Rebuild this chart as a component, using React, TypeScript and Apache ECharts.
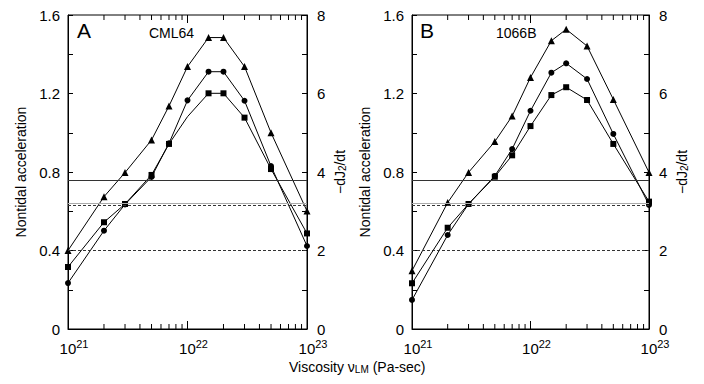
import React, { useEffect, useRef } from 'react';
import * as echarts from 'echarts';

const viscosity = [1e21, 2e21, 3e21, 5e21, 7e21, 1e22, 1.5e22, 2e22, 3e22, 5e22, 1e23];

const triA = [0.40, 0.674, 0.797, 0.963, 1.136, 1.337, 1.485, 1.485, 1.337, 1.0, 0.601];
const cirA = [0.234, 0.501, 0.635, 0.775, 0.946, 1.165, 1.311, 1.311, 1.163, 0.83, 0.423];
const sqA = [0.316, 0.544, 0.637, 0.785, 0.943, 1.082, 1.201, 1.201, 1.077, 0.815, 0.487];
const sqAHidden = [5]; // vertex without a visible marker

const triB = [0.297, 0.644, 0.798, 0.955, 1.085, 1.282, 1.469, 1.527, 1.442, 1.17, 0.798];
const cirB = [0.148, 0.479, 0.637, 0.78, 0.917, 1.112, 1.306, 1.354, 1.274, 0.994, 0.632];
const sqB = [0.233, 0.516, 0.637, 0.776, 0.885, 1.034, 1.192, 1.232, 1.167, 0.943, 0.649];

const refSolid = 0.76;
const refGrey = 0.64;
const refDashHigh = 0.63;
const refDashLow = 0.4;

const majorX = [1e22];
const minorX = [2e21, 3e21, 4e21, 5e21, 6e21, 7e21, 8e21, 9e21, 2e22, 3e22, 4e22, 5e22, 6e22, 7e22, 8e22, 9e22];

const panelLetters = ['A', 'B'];
const panelNames = ['CML64', '1066B'];

const FONT = '"Liberation Sans", Arial, Helvetica, sans-serif';

export default function App() {
  const ref = useRef<HTMLDivElement>(null);
  useEffect(() => {
    const chart = echarts.init(ref.current!, null, { renderer: 'svg' });
    const black = '#000';
    const grids = [
      { left: 68, top: 15, width: 239, height: 314, show: true, borderColor: black, borderWidth: 1, backgroundColor: 'transparent' },
      { left: 412, top: 15, width: 237, height: 314, show: true, borderColor: black, borderWidth: 1, backgroundColor: 'transparent' },
    ];
    const xAxis: any[] = [];
    const yAxis: any[] = [];
    const extraY: any[] = [];
    grids.forEach((_, g) => {
      xAxis.push({
        type: 'log', logBase: 10, gridIndex: g, min: 1e21, max: 1e23, position: 'bottom',
        axisLine: { show: true, onZero: false, lineStyle: { color: black, width: 1 } },
        axisTick: { show: false },
        splitLine: { show: false },
        axisLabel: {
          margin: 9,
          padding: [0, 0, 0, 12],
          formatter: (v: number) => `{b|10}{s|${Math.round(Math.log10(v))}}`,
          rich: {
            b: { fontSize: 15, fontFamily: FONT, color: black, lineHeight: 18, verticalAlign: 'bottom' },
            s: { fontSize: 11, fontFamily: FONT, color: black, lineHeight: 11, verticalAlign: 'top' },
          },
        },
        ...(g === 0
          ? {
              name: 'Viscosity ν{sub|LM} (Pa-sec)',
              nameLocation: 'end',
              nameGap: -18,
              nameMoveOverlap: false,
              nameTextStyle: {
                fontSize: 14, fontFamily: FONT, color: black, align: 'left', verticalAlign: 'top',
                padding: [31, 0, 0, 0],
                rich: { sub: { fontSize: 10, fontFamily: FONT, color: black, verticalAlign: 'bottom', lineHeight: 10 } },
              },
            }
          : {}),
      });
      yAxis.push({
        type: 'value', gridIndex: g, min: 0, max: 1.6, interval: 0.4, position: 'left',
        axisLine: { show: true, onZero: false, lineStyle: { color: black } },
        axisTick: { inside: true, length: 5, lineStyle: { color: black } },
        minorTick: { show: true, splitNumber: 2, length: 5, lineStyle: { color: black } },
        splitLine: { show: false },
        axisLabel: {
          margin: 8, fontSize: 15, fontFamily: FONT, color: black,
          formatter: (v: number) => (v === 0 ? '0' : v.toFixed(1)),
        },
        name: 'Nontidal acceleration', nameLocation: 'middle', nameRotate: 90, nameGap: 40,
        nameTextStyle: { fontSize: 14, fontFamily: FONT, color: black },
      });
      yAxis.push({
        type: 'value', gridIndex: g, min: 0, max: 8, interval: 2, position: 'right',
        axisLine: { show: true, onZero: false, lineStyle: { color: black } },
        axisTick: { inside: true, length: 5, lineStyle: { color: black } },
        minorTick: { show: true, splitNumber: 2, length: 5, lineStyle: { color: black } },
        splitLine: { show: false },
        axisLabel: { margin: 10, fontSize: 15, fontFamily: FONT, color: black },
        name: '−dJ{sub|2}/dt', nameLocation: 'middle', nameRotate: 90, nameGap: 26,
        nameTextStyle: {
          fontSize: 14, fontFamily: FONT, color: black,
          rich: {
            sub: { fontSize: 10, fontFamily: FONT, color: black, verticalAlign: 'bottom', lineHeight: 10 },
          },
        },
      });
      // hidden axes that only carry the panel letter and the sample name
      const hidden = {
        type: 'value', gridIndex: g, position: 'left', min: 0, max: 1,
        axisLine: { show: false, onZero: false }, axisTick: { show: false },
        axisLabel: { show: false }, splitLine: { show: false },
        nameLocation: 'end', nameMoveOverlap: false,
      };
      extraY.push({
        ...hidden, name: panelLetters[g], nameGap: -26,
        nameTextStyle: { fontSize: 21, fontFamily: FONT, color: black, align: 'left', verticalAlign: 'bottom', padding: [0, 0, 0, g === 0 ? 9 : 8] },
      });
      extraY.push({
        ...hidden, name: panelNames[g], nameGap: -25,
        nameTextStyle: { fontSize: 14, fontFamily: FONT, color: black, align: 'left', verticalAlign: 'bottom', padding: [0, 0, 0, g === 0 ? 81 : 84] },
      });
    });

    const zip = (ys: number[], hiddenIdx: number[] = []) =>
      viscosity.map((x, i) => (hiddenIdx.includes(i) ? { value: [x, ys[i]], symbol: 'none' } : [x, ys[i]]));

    const lineSeries = (g: number, ys: number[], symbol: string, size: number, hiddenIdx: number[] = [], withRefs = false) => ({
      type: 'line', xAxisIndex: g, yAxisIndex: g * 2,
      data: zip(ys, hiddenIdx), symbol, symbolSize: size, showAllSymbol: true,
      itemStyle: { color: black },
      lineStyle: { color: black, width: 1 },
      z: 3,
      markLine: withRefs ? {
        silent: true, symbol: ['none', 'none'], label: { show: false }, animation: false,
        data: [
          { yAxis: refSolid, lineStyle: { type: 'solid', color: '#333', width: 1 } },
          { yAxis: refGrey, lineStyle: { type: 'solid', color: '#aaa', width: 1 } },
          { yAxis: refDashHigh, lineStyle: { type: [3, 2], color: '#333', width: 1 } },
          { yAxis: refDashLow, lineStyle: { type: [3, 2], color: '#333', width: 1 } },
        ],
      } : undefined,
    });

    const tickSeries = (g: number) => ({
      type: 'custom', xAxisIndex: g, yAxisIndex: g * 2, clip: false, z: 4,
      data: [...majorX.map((v) => [v, 8]), ...minorX.map((v) => [v, 5])],
      renderItem: (_p: any, api: any) => {
        const v = api.value(0);
        const len = api.value(1);
        const b = api.coord([v, 0]);
        const t = api.coord([v, 1.6]);
        return {
          type: 'group',
          children: [
            { type: 'line', shape: { x1: b[0], y1: b[1], x2: b[0], y2: b[1] - len }, style: { stroke: black, lineWidth: 1 } },
            { type: 'line', shape: { x1: t[0], y1: t[1], x2: t[0], y2: t[1] + len }, style: { stroke: black, lineWidth: 1 } },
          ],
        };
      },
    });

    const series = [
      lineSeries(0, triA, 'triangle', 7, [], true),
      lineSeries(0, cirA, 'circle', 6),
      lineSeries(0, sqA, 'rect', 6, sqAHidden),
      tickSeries(0),
      lineSeries(1, triB, 'triangle', 7, [], true),
      lineSeries(1, cirB, 'circle', 6),
      lineSeries(1, sqB, 'rect', 6),
      tickSeries(1),
    ];

    chart.setOption({
      animation: false,
      grid: grids,
      xAxis,
      yAxis: [...yAxis, ...extraY],
      series,
    });
    return () => chart.dispose();
  }, []);
  return <div ref={ref} style={{ position: 'fixed', left: 0, top: 0, width: 704, height: 384, background: '#fff' }} />;
}
